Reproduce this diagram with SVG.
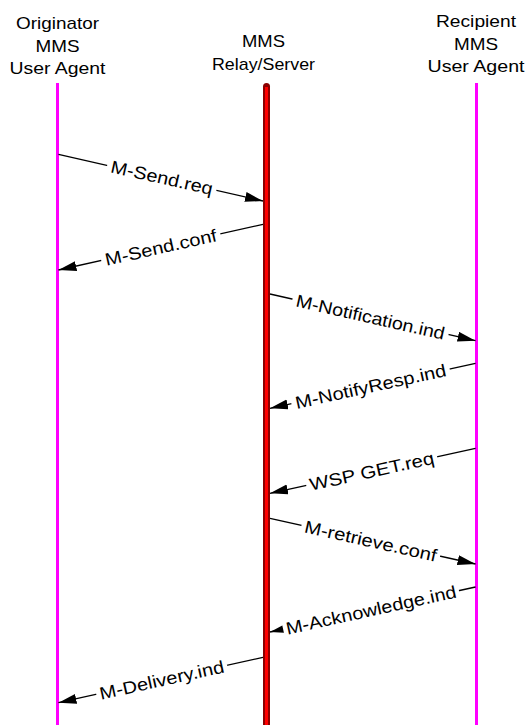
<svg xmlns="http://www.w3.org/2000/svg" width="528" height="725" viewBox="0 0 528 725">
<style>
text{font-family:"Liberation Sans",Arial,sans-serif;font-size:17.5px;fill:#000;}
.hd{text-anchor:middle;font-size:17px;}
.lb{text-anchor:middle;}
.msg{stroke:#000;stroke-width:1.3;fill:none;marker-end:url(#ah);}
.bg{fill:#fff;}
.ua{stroke:#FF00FF;stroke-width:3;}
</style>
<defs>
<marker id="ah" markerUnits="userSpaceOnUse" markerWidth="19" markerHeight="11" refX="18" refY="5" orient="auto" viewBox="0 0 19 11">
<path d="M0,0 L18,5 L0,10 z" fill="#000"/>
</marker>
</defs>
<rect width="528" height="725" fill="#fff"/>
<g id="originator">
<text class="hd" x="57.5" y="29" textLength="83" lengthAdjust="spacingAndGlyphs">Originator</text>
<text class="hd" x="57.5" y="51.5" textLength="44" lengthAdjust="spacingAndGlyphs">MMS</text>
<text class="hd" x="57.5" y="74" textLength="96" lengthAdjust="spacingAndGlyphs">User Agent</text>
<line class="ua" x1="57.5" y1="83" x2="57.5" y2="725"/>
</g>
<g id="relay">
<text class="hd" x="263.5" y="47" textLength="43" lengthAdjust="spacingAndGlyphs">MMS</text>
<text class="hd" x="263.5" y="69.5" textLength="103" lengthAdjust="spacingAndGlyphs">Relay/Server</text>
<line x1="266.5" y1="86.5" x2="266.5" y2="735" stroke="#8B0000" stroke-width="7" stroke-linecap="round"/>
<line x1="266.5" y1="87" x2="266.5" y2="735" stroke="#FF0000" stroke-width="3"/>
</g>
<g id="recipient">
<text class="hd" x="476" y="27" textLength="80" lengthAdjust="spacingAndGlyphs">Recipient</text>
<text class="hd" x="476" y="49.5" textLength="44" lengthAdjust="spacingAndGlyphs">MMS</text>
<text class="hd" x="476" y="71.5" textLength="97" lengthAdjust="spacingAndGlyphs">User Agent</text>
<line class="ua" x1="476.5" y1="83" x2="476.5" y2="725"/>
</g>
<g id="connectors">
<line class="msg" x1="58.5" y1="154.3" x2="263" y2="201"/>
<g transform="translate(161.9 177.4) rotate(12.7)"><rect class="bg" x="-56" y="-9" width="112" height="18"/><text class="lb" x="0" y="6.3" textLength="104" lengthAdjust="spacingAndGlyphs">M-Send.req</text></g>

<line class="msg" x1="263" y1="224.3" x2="58.5" y2="270"/>
<g transform="translate(160.8 247.2) rotate(-12.6)"><rect class="bg" x="-61" y="-9" width="122" height="18"/><text class="lb" x="0" y="6.3" textLength="114" lengthAdjust="spacingAndGlyphs">M-Send.conf</text></g>

<line class="msg" x1="270" y1="294" x2="475.5" y2="340.7"/>
<g transform="translate(370.5 316.9) rotate(12.7)"><rect class="bg" x="-80" y="-9" width="160" height="18"/><text class="lb" x="0" y="6.3" textLength="152" lengthAdjust="spacingAndGlyphs">M-Notification.ind</text></g>

<line class="msg" x1="475.5" y1="363.3" x2="270" y2="408.3"/>
<g transform="translate(370.5 386.2) rotate(-12.4)"><rect class="bg" x="-81" y="-9" width="162" height="18"/><text class="lb" x="0" y="6.3" textLength="154" lengthAdjust="spacingAndGlyphs">M-NotifyResp.ind</text></g>

<line class="msg" x1="475.5" y1="448.3" x2="270" y2="493.3"/>
<g transform="translate(371.7 471) rotate(-12.4)"><rect class="bg" x="-67" y="-9" width="134" height="18"/><text class="lb" x="0" y="6.3" textLength="127" lengthAdjust="spacingAndGlyphs">WSP GET.req</text></g>

<line class="msg" x1="270" y1="518.3" x2="475.5" y2="564"/>
<g transform="translate(370.8 540.8) rotate(12.6)"><rect class="bg" x="-71" y="-9" width="142" height="18"/><text class="lb" x="0" y="6.3" textLength="135" lengthAdjust="spacingAndGlyphs">M-retrieve.conf</text></g>

<line class="msg" x1="475.5" y1="587" x2="270" y2="632"/>
<g transform="translate(371 609.8) rotate(-12.4)"><rect class="bg" x="-90" y="-9" width="180" height="18"/><text class="lb" x="0" y="6.3" textLength="174" lengthAdjust="spacingAndGlyphs">M-Acknowledge.ind</text></g>

<line class="msg" x1="263" y1="657.3" x2="58.5" y2="702.7"/>
<g transform="translate(161.7 679.8) rotate(-12.5)"><rect class="bg" x="-67" y="-9" width="134" height="18"/><text class="lb" x="0" y="6.3" textLength="127" lengthAdjust="spacingAndGlyphs">M-Delivery.ind</text></g>
</g>
</svg>
